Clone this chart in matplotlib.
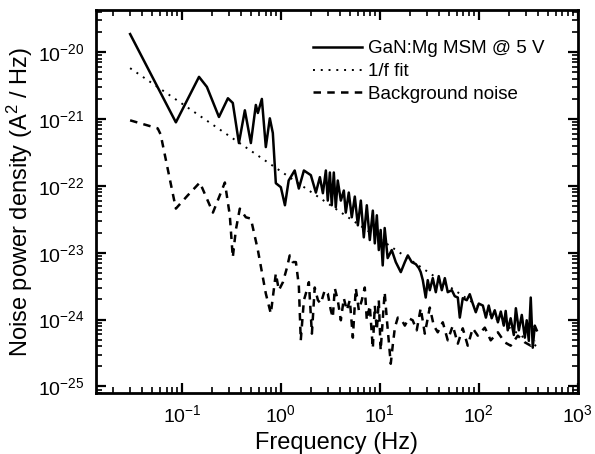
import numpy as np
import matplotlib.pyplot as plt
from matplotlib.ticker import FixedLocator, NullFormatter

plt.rcParams['font.family'] = ['Liberation Sans Narrow', 'Liberation Sans', 'DejaVu Sans']
plt.rcParams['mathtext.fontset'] = 'custom'
plt.rcParams['mathtext.rm'] = 'Liberation Sans'
plt.rcParams['mathtext.it'] = 'Liberation Sans'

# GaN:Mg MSM @ 5 V  (frequency in Hz, log10 of noise density in A^2/Hz)
f_dev = [0.030, 0.087, 0.149, 0.179, 0.237, 0.292, 0.327, 0.377, 0.433, 0.498,
         0.559, 0.586, 0.643, 0.705, 0.774, 0.830, 0.890, 1.00, 1.10, 1.20,
         1.38, 1.52, 1.71, 2.01, 2.26, 2.48, 2.66, 2.85, 2.98, 3.13,
         3.27, 3.43, 3.59, 3.76, 4.04, 4.33, 4.53, 4.86, 5.21, 5.59,
         6.00, 6.43, 6.89, 7.39, 7.92, 8.50, 8.90, 9.33, 9.77, 10.2,
         10.7, 11.2, 12.0, 13.2, 14.5, 16.3, 17.9, 19.2, 21.0, 23.1,
         24.8, 25.9, 27.2, 29.1, 30.5, 32.0, 34.3, 36.8, 39.4, 42.3,
         45.4, 48.6, 53.4, 57.2, 61.4, 64.3, 68.9, 75.6, 81.1, 86.9,
         93.3, 100, 110, 118, 126, 135, 145, 156, 167, 179,
         187, 196, 210, 226, 237, 254, 272, 292, 305, 320,
         335, 351, 368, 385]
p_dev = [-19.73, -21.05, -20.37, -20.52, -20.97, -20.69, -20.76, -21.36, -20.87, -21.36,
         -20.79, -20.91, -20.70, -21.42, -20.99, -21.21, -21.96, -22.02, -22.29, -21.92,
         -21.77, -22.04, -21.77, -21.84, -22.10, -21.87, -22.11, -21.77, -22.22, -21.80,
         -22.29, -21.80, -22.32, -21.92, -22.22, -22.07, -22.40, -22.10, -22.47, -22.16,
         -22.59, -22.22, -22.77, -22.29, -22.81, -22.37, -22.86, -22.44, -22.96, -22.66,
         -23.19, -22.63, -23.08, -22.96, -23.14, -23.29, -23.14, -23.04, -23.14, -23.17,
         -23.23, -23.29, -23.41, -23.67, -23.41, -23.56, -23.38, -23.59, -23.35, -23.56,
         -23.38, -23.59, -23.56, -23.65, -23.67, -23.97, -23.68, -23.71, -23.62, -23.76,
         -23.89, -23.76, -23.79, -23.97, -23.79, -23.98, -23.86, -24.04, -23.88, -24.09,
         -23.87, -24.16, -23.98, -24.23, -23.83, -24.16, -23.93, -24.27, -24.01, -24.31,
         -23.67, -24.42, -24.09, -24.16]

# 1/f fit end points
f_fit = [0.030, 385]
p_fit = [-20.24, -24.40]

# background noise
f_bg = [0.030, 0.057, 0.061, 0.087, 0.115, 0.152, 0.206, 0.272, 0.305, 0.327,
        0.351, 0.385, 0.443, 0.498, 0.586, 0.705, 0.792, 0.890, 0.955, 1.05,
        1.15, 1.23, 1.32, 1.42, 1.52, 1.59, 1.71, 1.79, 1.92, 2.06,
        2.20, 2.37, 2.53, 2.78, 2.98, 3.20, 3.35, 3.51, 3.76, 4.04,
        4.33, 4.64, 4.98, 5.34, 5.72, 6.14, 6.58, 7.05, 7.39, 7.92,
        8.50, 8.90, 9.33, 9.77, 10.2, 10.7, 11.2, 11.8, 12.3, 12.9,
        13.5, 14.2, 15.2, 16.7, 17.9, 19.6, 21.5, 23.6, 25.9, 28.5,
        30.5, 32.0, 35.1, 38.5, 43.3, 48.6, 54.6, 61.4, 68.9, 77.4,
        86.9, 97.7, 115, 132, 156, 183, 210, 248, 292, 335, 368]
p_bg = [-21.02, -21.14, -21.23, -22.34, -22.14, -21.95, -22.40, -21.95, -22.44, -23.07,
        -22.66, -22.34, -22.47, -22.49, -22.96, -23.61, -23.91, -23.31, -23.56, -23.44,
        -23.23, -23.04, -23.14, -23.14, -23.49, -24.31, -23.71, -23.61, -23.44, -24.21,
        -23.52, -23.71, -23.76, -23.56, -23.61, -23.86, -23.97, -23.53, -23.71, -24.01,
        -23.68, -23.86, -23.71, -24.27, -23.53, -23.86, -23.71, -23.52, -24.01, -23.79,
        -24.43, -23.79, -24.16, -23.71, -24.46, -24.01, -23.59, -24.01, -24.31, -24.66,
        -24.39, -24.12, -23.97, -24.01, -24.09, -23.98, -24.01, -24.16, -23.83, -24.21,
        -23.98, -23.82, -24.09, -24.19, -24.04, -24.31, -24.09, -24.36, -24.13, -24.39,
        -24.13, -24.24, -24.12, -24.31, -24.19, -24.34, -24.39, -24.24, -24.34, -24.39, -24.31]

# decades for tick marks
x_dec = [-2, -1, 0, 1, 2, 3]
y_dec = [-26, -25, -24, -23, -22, -21, -20]

fig = plt.figure(figsize=(5.95, 4.54), dpi=100)
ax = fig.add_axes([0.161, 0.134, 0.81, 0.844])

ax.loglog(f_dev, np.power(10.0, p_dev), color='black', lw=1.8, label='GaN:Mg MSM @ 5 V')
ax.loglog(f_fit, np.power(10.0, p_fit), color='black', lw=1.4, ls=(0, (1, 3)), label='1/f fit')
ax.loglog(f_bg, np.power(10.0, p_bg), color='black', lw=1.8, ls=(0, (3, 2.5)), label='Background noise')

# ticks: majors at each decade, minors at 2..9
subs = np.arange(2, 10)
ax.set_xticks([10.0**d for d in x_dec[1:]])
ax.set_yticks([10.0**d for d in y_dec[1:]])
ax.xaxis.set_minor_locator(FixedLocator([s * 10.0**d for d in x_dec for s in subs]))
ax.yaxis.set_minor_locator(FixedLocator([s * 10.0**d for d in y_dec for s in subs]))
ax.xaxis.set_minor_formatter(NullFormatter())
ax.yaxis.set_minor_formatter(NullFormatter())
ax.set_xlim(0.0135, 1000)
ax.set_ylim(10**-25.1, 10**-19.37)

ax.set_xlabel('Frequency (Hz)', fontsize=17, labelpad=4)
ax.set_ylabel('Noise power density (A$^2$ / Hz)', fontsize=17, labelpad=2)

ax.tick_params(which='both', direction='in', top=True, right=True, labelsize=14)
ax.tick_params(which='major', length=7, width=1.6, pad=8)
ax.tick_params(which='minor', length=4.5, width=1.2)
for s in ax.spines.values():
    s.set_linewidth(2)

ax.legend(loc='upper right', frameon=False, fontsize=13.5, handlelength=2.6,
          handletextpad=0.3, labelspacing=0.3, bbox_to_anchor=(0.965, 0.965))

fig.savefig('out.png', dpi=100)
